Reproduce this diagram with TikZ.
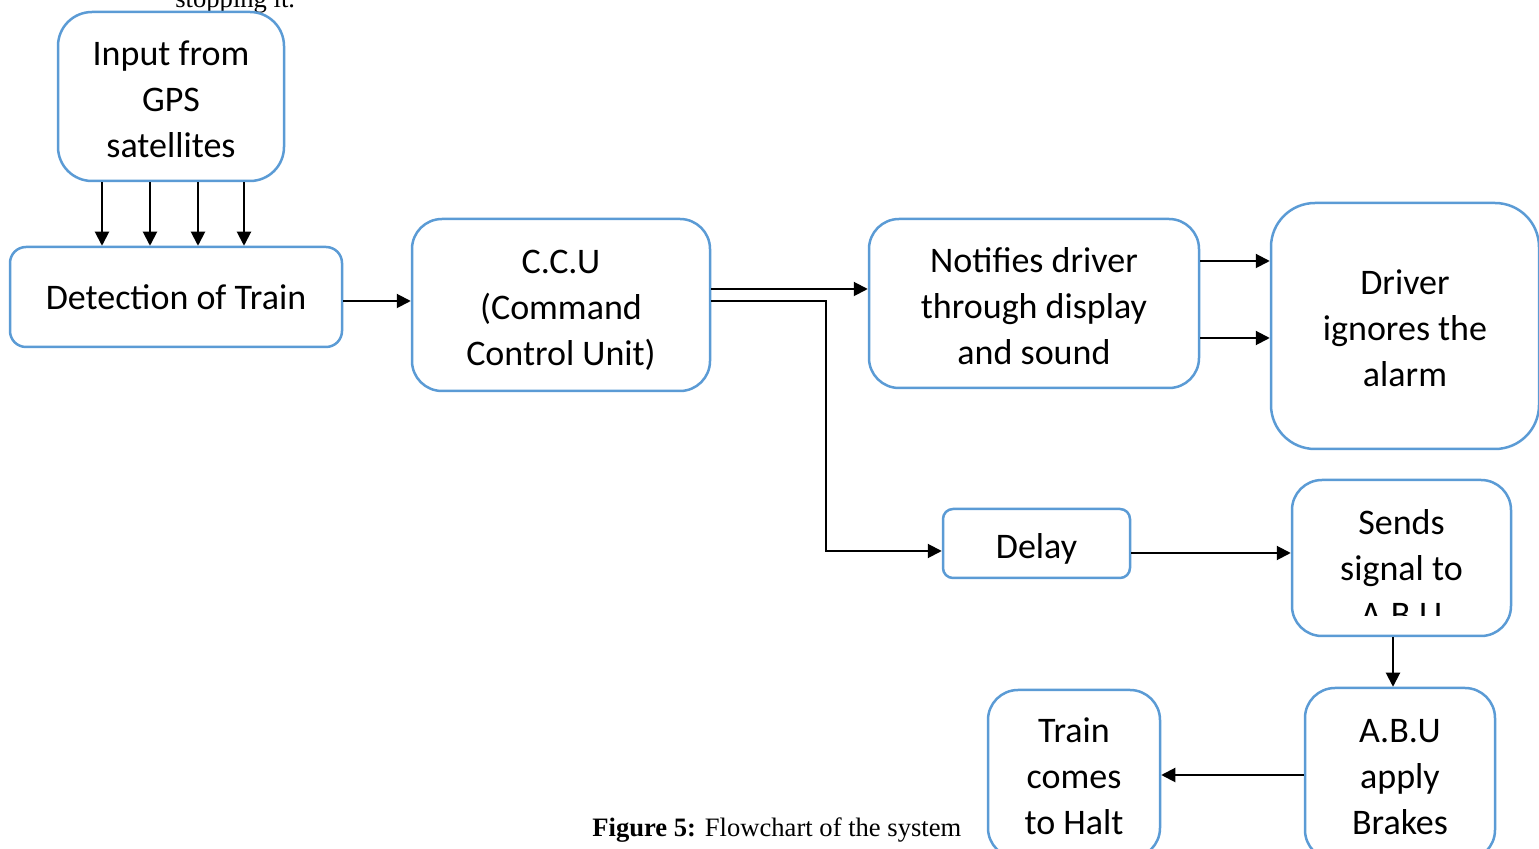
\documentclass[tikz,border=0pt]{standalone}
\usepackage{fontspec}
\setmainfont{Carlito}
\newfontfamily\capfont{Liberation Serif}
\usepackage{tikz}
\usetikzlibrary{arrows.meta, positioning, calc}

\definecolor{boxblue}{RGB}{91,155,213}

\begin{document}
\begin{tikzpicture}[
    x=0.5pt, y=-0.5pt,
    box/.style={draw=boxblue, line width=1.25pt, rounded corners=15pt, inner sep=0pt,
        align=center, font=\fontsize{18}{23}\selectfont},
    three/.style={text height=61pt, text depth=0pt},
    lbl/.style={inner sep=0pt, align=center, font=\fontsize{18}{23}\selectfont},
    arr/.style={line width=1pt, -{Triangle[length=7pt, width=7pt]}},
    note/.style={inner sep=0pt, font=\capfont\fontsize{13.3}{16}\selectfont}
]
    \useasboundingbox (0,0) rectangle (1539,849);

    % text cut off above the picture
    \node[note, anchor=base west] (stop) at (175,8) {stopping it.};

    % boxes
    \node[box, three, minimum width=113pt, minimum height=84.5pt, rounded corners=17pt] (input) at (171,96.5) {Input from\\GPS\\satellites};
    \node[box, minimum width=166pt, minimum height=50pt, rounded corners=8pt] (detect) at (176,297) {Detection of Train};
    \node[box, three, minimum width=149pt, minimum height=86pt, rounded corners=15pt] (ccu) at (561,305) {C.C.U\\(Command\\Control Unit)};
    \node[box, three, minimum width=165pt, minimum height=84.5pt, rounded corners=15pt] (notify) at (1034,303.5) {Notifies driver\\through display\\and sound};
    \node[box, three, minimum width=134pt, minimum height=123pt, rounded corners=22pt] (driver) at (1405,326) {Driver\\ignores the\\alarm};
    \node[box, text height=19pt, text depth=3.6pt, minimum width=93.5pt, minimum height=34.5pt, rounded corners=5pt] (delay) at (1036.5,543.5) {Delay};
    \node[box, minimum width=109.5pt, minimum height=78pt, rounded corners=15pt] (sends) at (1401.5,558) {};
    \node[box, three, minimum width=95pt, minimum height=86pt, rounded corners=15pt] (abu) at (1400,774) {A.B.U\\apply\\Brakes};
    \node[box, three, minimum width=86pt, minimum height=84pt, rounded corners=15pt] (train) at (1074,774) {Train\\comes\\to Halt};

    % text of the A.B.U box, cut off at the bottom
    \begin{scope}
        \clip (sends.north west) rectangle (sends.east |- 0,616);
        \node[lbl, three] (sendstxt) at (1401.5,566) {Sends\\signal to\\A.B.U};
    \end{scope}

    % connectors
    \foreach \x in {102,150,198,244}
        \draw[arr] (input.south -| \x,0) -- (detect.north -| \x,0);
    \draw[arr] (detect.east |- 0,301) -- (ccu.west |- 0,301);
    \draw[arr] (ccu.east |- 0,289) -- (notify.west |- 0,289);
    \draw[arr] (ccu.east |- 0,301) -| (826,551) -- (delay.west |- 0,551);
    \draw[arr] (notify.east |- 0,261) -- (driver.west |- 0,261);
    \draw[arr] (notify.east |- 0,338) -- (driver.west |- 0,338);
    \draw[arr] (delay.east |- 0,553) -- (sends.west |- 0,553);
    \draw[arr] (sends.south -| 1393,0) -- (abu.north -| 1393,0);
    \draw[arr] (abu.west |- 0,775) -- (train.east |- 0,775);

    % caption
    \node[note, anchor=base west] (caption) at (592,837) {\textbf{Figure 5:} Flowchart of the system};
\end{tikzpicture}
\end{document}
